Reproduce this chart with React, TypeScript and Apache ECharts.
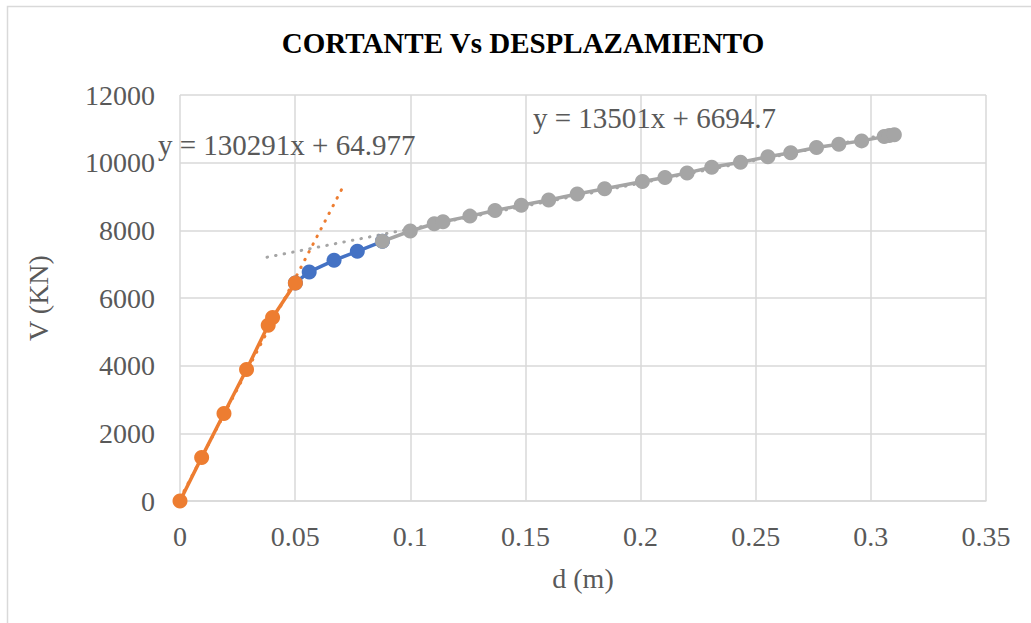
import React, { useEffect, useRef } from "react";
import * as echarts from "echarts";

// Elastic branch (orange), transition (blue) and plastic branch (gray): [d (m), V (kN)]
const elasticPoints: [number, number][] = [
  [0, 0],
  [0.0094, 1289],
  [0.0191, 2588],
  [0.0289, 3887],
  [0.0383, 5196],
  [0.0402, 5422],
  [0.0501, 6445],
];

const transitionPoints: [number, number][] = [
  [0.0501, 6445],
  [0.0561, 6770],
  [0.0669, 7114],
  [0.077, 7380],
  [0.0879, 7675],
];

const plasticPoints: [number, number][] = [
  [0.0879, 7675],
  [0.1, 7980],
  [0.1104, 8195],
  [0.1142, 8254],
  [0.1259, 8420],
  [0.1368, 8585],
  [0.1482, 8741],
  [0.1601, 8898],
  [0.1725, 9073],
  [0.1844, 9229],
  [0.2008, 9444],
  [0.2106, 9561],
  [0.2202, 9698],
  [0.2309, 9863],
  [0.2434, 10010],
  [0.2553, 10176],
  [0.2652, 10293],
  [0.2764, 10449],
  [0.2861, 10546],
  [0.296, 10644],
  [0.3058, 10770],
  [0.308, 10800],
  [0.3102, 10825],
];

// Linear trendlines: [slope, intercept] and the d range each one covers
const elasticTrend = [130291, 64.977];
const elasticTrendRange = [0, 0.0704];
const plasticTrend = [13501, 6694.7];
const plasticTrendRange = [0.0378, 0.3102];

const xTicks = [0, 0.35, 0.05];
const yTicks = [0, 12000, 2000];

const ORANGE = "#ED7D31";
const BLUE = "#4472C4";
const GRAY = "#A5A5A5";
const TEXT = "#595959";
const GRID = "#D9D9D9";
const SERIF = "'Liberation Serif', 'Times New Roman', serif";

const trendLine = (coef: number[], range: number[]): [number, number][] =>
  range.map((x) => [x, coef[0] * x + coef[1]] as [number, number]);

const fmtEq = (coef: number[]) => `y = ${coef[0]}x + ${coef[1]}`;

export default function App() {
  const ref = useRef<HTMLDivElement>(null);

  useEffect(() => {
    if (!ref.current) return;
    const chart = echarts.init(ref.current, null, { renderer: "svg" });

    const pointSeries = (name: string, data: [number, number][], color: string, z: number) => ({
      name,
      type: "line",
      data,
      z,
      symbol: "circle",
      symbolSize: 15,
      showAllSymbol: true,
      itemStyle: { color },
      lineStyle: { color, width: 3.5 },
    });

    const dottedSeries = (name: string, data: [number, number][], color: string) => ({
      name,
      type: "line",
      data,
      z: 1,
      symbol: "none",
      lineStyle: { color, width: 3, type: [0.5, 8.2], cap: "round" },
    });

    chart.setOption({
      animation: false,
      backgroundColor: "#ffffff",
      grid: { left: 180, top: 95, right: 45, bottom: 122 },
      xAxis: {
        type: "value",
        min: xTicks[0],
        max: xTicks[1],
        interval: xTicks[2],
        name: "d (m)",
        nameLocation: "middle",
        nameGap: 63,
        nameTextStyle: { fontFamily: SERIF, fontSize: 28, color: TEXT },
        axisLine: { show: true, lineStyle: { color: GRID, width: 1.5 } },
        axisTick: { show: false },
        axisLabel: { margin: 21, fontFamily: SERIF, fontSize: 28, color: TEXT },
        splitLine: { show: true, lineStyle: { color: GRID, width: 1.5 } },
      },
      yAxis: {
        type: "value",
        min: yTicks[0],
        max: yTicks[1],
        interval: yTicks[2],
        name: "V (KN)",
        nameLocation: "middle",
        nameGap: 128,
        nameTextStyle: { fontFamily: SERIF, fontSize: 28, color: TEXT },
        axisLine: { show: false },
        axisTick: { show: false },
        axisLabel: {
          margin: 25,
          fontFamily: SERIF,
          fontSize: 28,
          color: TEXT,
          formatter: (v: number) => String(v),
        },
        splitLine: { show: true, lineStyle: { color: GRID, width: 1.5 } },
      },
      series: [
        dottedSeries("Tendencia elástica", trendLine(elasticTrend, elasticTrendRange), ORANGE),
        dottedSeries("Tendencia plástica", trendLine(plasticTrend, plasticTrendRange), GRAY),
        pointSeries("Transición", transitionPoints, BLUE, 2),
        pointSeries("Rango plástico", plasticPoints, GRAY, 3),
        pointSeries("Rango elástico", elasticPoints, ORANGE, 4),
      ],
      graphic: [
        {
          type: "rect",
          z: -10,
          silent: true,
          shape: { x: 7.5, y: 6.5, width: 1100, height: 700 },
          style: { fill: "none", stroke: GRID, lineWidth: 1.5 },
        },
        {
          type: "text",
          x: 523,
          y: 43,
          style: {
            text: "CORTANTE Vs DESPLAZAMIENTO",
            font: `bold 29px ${SERIF}`,
            fill: "#000000",
            align: "center",
            verticalAlign: "middle",
          },
        },
        {
          type: "text",
          x: 158,
          y: 145,
          z: 10,
          style: {
            text: fmtEq(elasticTrend),
            font: `29px ${SERIF}`,
            fill: TEXT,
            align: "left",
            verticalAlign: "middle",
          },
        },
        {
          type: "text",
          x: 533,
          y: 118,
          z: 10,
          style: {
            text: fmtEq(plasticTrend),
            font: `29px ${SERIF}`,
            fill: TEXT,
            align: "left",
            verticalAlign: "middle",
          },
        },
      ],
    });

    return () => chart.dispose();
  }, []);

  return (
    <div
      ref={ref}
      style={{ position: "absolute", left: 0, top: 0, width: 1031, height: 623, background: "#fff" }}
    />
  );
}
